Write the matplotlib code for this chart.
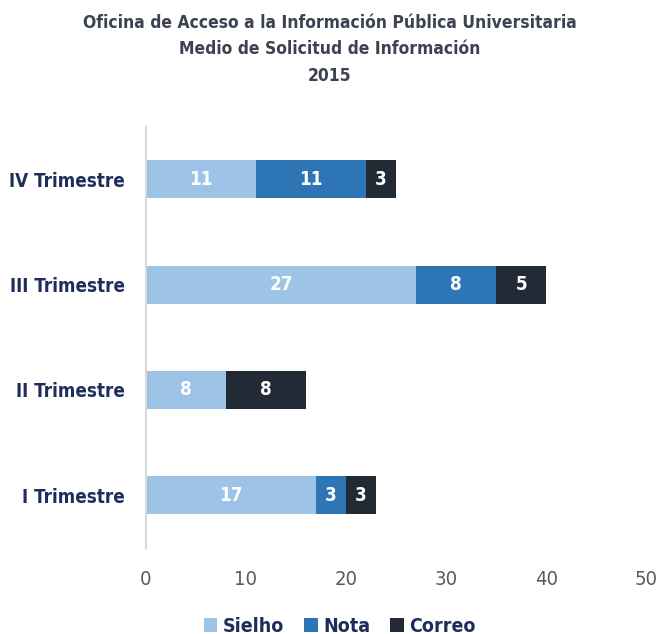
import matplotlib
matplotlib.use("Agg")
import matplotlib.pyplot as plt
import numpy as np

plt.rcParams['font.family'] = ['DejaVu Sans']
plt.rcParams['font.stretch'] = 'condensed'

categorias = ['I Trimestre', 'II Trimestre', 'III Trimestre', 'IV Trimestre']
sielho = [17, 8, 27, 11]
nota = [3, 0, 8, 11]
correo = [3, 8, 5, 3]

series = [('Sielho', sielho, '#9DC3E6'),
          ('Nota', nota, '#2E75B6'),
          ('Correo', correo, '#222A35')]

fig = plt.figure(figsize=(6.6, 6.34), dpi=100)
ax = fig.add_axes([0.221, 0.136, 0.758, 0.664])

y = np.arange(len(categorias))
left = np.zeros(len(categorias))
for nombre, vals, color in series:
    vals = np.array(vals, dtype=float)
    bars = ax.barh(y, vals, left=left, height=0.36, color=color, label=nombre)
    for b, v in zip(bars, vals):
        if v > 0:
            ax.text(b.get_x() + b.get_width() / 2, b.get_y() + b.get_height() / 2,
                    '%d' % v, ha='center', va='center', color='white',
                    fontsize=13.5, fontweight='bold')
    left += vals

ax.set_xlim(0, 50)
ax.set_ylim(-0.5, 3.5)
ax.set_xticks(np.arange(0, 51, 10))
ax.set_yticks(y)
ax.set_yticklabels(categorias, fontsize=13.5, fontweight='bold', color='#1F2D5C')
ax.tick_params(axis='x', labelsize=14.5, colors='#595959', length=0, pad=16)
ax.tick_params(axis='y', length=0, pad=15)
for s in ['top', 'right', 'bottom']:
    ax.spines[s].set_visible(False)
ax.spines['left'].set_color('#D9D9D9')
ax.spines['left'].set_linewidth(1.5)

fig.suptitle('Oficina de Acceso a la Información Pública Universitaria\n'
             'Medio de Solicitud de Información\n2015',
             y=0.978, fontsize=12.5, fontweight='bold', color='#3B4252', linespacing=1.6)

leg = fig.legend(loc='lower center', bbox_to_anchor=(0.515, -0.03), ncol=3, frameon=False,
                 handlelength=0.7, handleheight=0.7, handletextpad=0.3, columnspacing=1.0,
                 prop={'size': 14, 'weight': 'bold', 'stretch': 'condensed'})
for t in leg.get_texts():
    t.set_color('#1F2D5C')

plt.savefig('out.png', dpi=100)
